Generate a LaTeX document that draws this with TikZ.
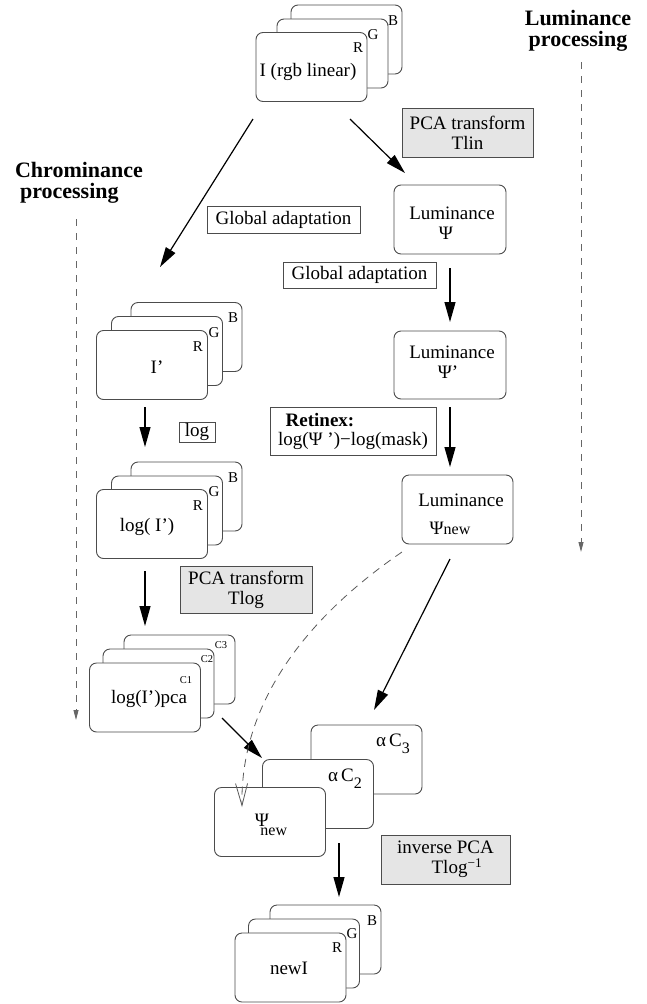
\documentclass[tikz,border=0pt]{standalone}
\usepackage{fontspec}
\setmainfont{Liberation Serif}
\usetikzlibrary{arrows.meta}
\newcommand\fNormal{\fontsize{19}{21}\selectfont}
\newcommand\fBigBold{\fontsize{22}{21}\selectfont\bfseries}
\newcommand\fRGB{\fontsize{15}{16}\selectfont}
\newcommand\fCsmall{\fontsize{10.5}{11}\selectfont}
\newcommand\fSubNew{\fontsize{16}{16}\selectfont}
\begin{document}
\begin{tikzpicture}[x=1pt,y=-1pt,
  card/.style={draw=black!70, fill=white, rounded corners=7pt, line width=0.9pt,
    minimum width=111pt, minimum height=69pt, inner sep=0pt},
  lbl/.style={draw=black!70, line width=0.9pt, inner sep=0pt, font=\fNormal, align=center},
  graylbl/.style={lbl, fill=black!10},
  txt/.style={inner sep=0pt, font=\fNormal},
  btxt/.style={inner sep=0pt, font=\fBigBold},
  chan/.style={inner sep=0pt, font=\fRGB},
  smallchan/.style={inner sep=0pt, font=\fCsmall},
  arr/.style={-{Triangle[length=20pt,width=11pt]}, line width=1.2pt},
  procarr/.style={draw=black!60, line width=0.9pt, dash pattern=on 7pt off 7pt,
    -{Triangle[length=10pt,width=5pt]}},
  curvearr/.style={draw=black!65, line width=0.8pt, dash pattern=on 8pt off 6pt,
    -{Straight Barb[length=22pt,width=12pt,line width=0.8pt]}}
]
\useasboundingbox (0,0) rectangle (647,1004);

% ---------- top stack: I (rgb linear)
\node[card] (topB) at (346.5,39.5) {};
\node[card] (topG) at (332.5,53.5) {};
\node[card] (topR) at (311.5,67) {};
\node[txt] (topT) at (308,72) {I (rgb linear)};
\node[chan] (topRl) at (358,48) {R};
\node[chan] (topGl) at (373,35) {G};
\node[chan] (topBl) at (393,21) {B};

% ---------- titles
\node[btxt, align=center] (lumtitle) at (578,31) {Luminance\\processing};
\node[btxt, align=left] (chrtitle) at (79,183) {Chrominance\\\hspace{5pt}processing};
\coordinate (lpS) at (581,62);
\coordinate (lpE) at (581,552);
\coordinate (cpS) at (76,219);
\coordinate (cpE) at (76,720);
\draw[procarr] (lpS) -- (lpE);
\draw[procarr] (cpS) -- (cpE);

% ---------- label boxes
\node[graylbl, minimum width=131pt, minimum height=49pt] (pcaLin) at (467.5,132.5)
  {PCA transform\\[-1pt]Tlin};
\node[lbl, minimum width=153pt, minimum height=27pt] (gaL) at (283.5,219.5) {Global adaptation};
\node[lbl, minimum width=153pt, minimum height=26pt] (gaR) at (359.5,275) {Global adaptation};
\node[lbl, minimum width=36pt, minimum height=20pt] (logbox) at (197,432) {log};
\node[lbl, minimum width=166pt, minimum height=48pt, align=left] (retinex) at (353,431)
  {\hspace{0.4em}\textbf{Retinex:}\\[-2pt]log(Ψ ’)−log(mask)};
\node[graylbl, minimum width=132pt, minimum height=47pt] (pcaLog) at (246,589.5)
  {PCA transform\\[-1pt]Tlog};
\node[graylbl, minimum width=129pt, minimum height=49pt] (invpca) at (445.5,859.5)
  {inverse PCA\\[-1pt]\hspace{1.2em}Tlog\textsuperscript{−1}};

% ---------- right column
\node[card, minimum width=112pt] (psi1) at (450,219.5) {};
\node[txt] (psi1a) at (452,213) {Luminance};
\node[txt] (psi1b) at (446,233) {Ψ};
\node[card, minimum width=112pt, minimum height=68pt] (psi2) at (450,365) {};
\node[txt] (psi2a) at (452,352) {Luminance};
\node[txt] (psi2b) at (448,372) {Ψ’};
\node[card, minimum width=111pt, minimum height=69pt] (psi3) at (457.5,509.5) {};
\node[txt] (psi3a) at (461,500) {Luminance};
\node[txt] (psi3b) at (450,528) {Ψ{\fSubNew new}};

% ---------- I' stack
\node[card] (ipB) at (186.5,337) {};
\node[card] (ipG) at (167,351) {};
\node[card] (ipR) at (152,365) {};
\node[txt] (ipT) at (157,367) {I’};
\node[chan] (ipRl) at (198,347) {R};
\node[chan] (ipGl) at (214,333) {G};
\node[chan] (ipBl) at (233,318) {B};

% ---------- log(I') stack
\node[card] (lgB) at (186.5,496.5) {};
\node[card] (lgG) at (167,510.5) {};
\node[card] (lgR) at (152,524) {};
\node[txt] (lgT) at (147,527) {log( I’)};
\node[chan] (lgRl) at (198,506) {R};
\node[chan] (lgGl) at (214,492) {G};
\node[chan] (lgBl) at (233,478) {B};

% ---------- log(I')pca stack
\node[card] (pcB) at (179.5,669.5) {};
\node[card] (pcG) at (158.5,683.5) {};
\node[card] (pcR) at (145,697.5) {};
\node[txt] (pcT) at (149,699) {log(I’)pca};
\node[smallchan] (pc1) at (186,680) {C1};
\node[smallchan] (pc2) at (207,659) {C2};
\node[smallchan] (pc3) at (221,645) {C3};

% ---------- bottom stack: Psi_new, alpha C2, alpha C3
\node[card] (bC3) at (366.5,759.5) {};
\node[card] (bC2) at (318,794) {};
\node[card] (bPsi) at (270,822) {};
\node[txt] (bPsiT) at (271,825) {Ψ\kern-0.45em\raisebox{-0.45em}{\fSubNew new}};
\node[txt] (bC2T) at (345,779) {α\,C\raisebox{-0.35em}{\fSubNew 2}};
\node[txt] (bC3T) at (393,744) {α\,C\raisebox{-0.35em}{\fSubNew 3}};

% ---------- newI stack
\node[card] (nB) at (325.5,939.5) {};
\node[card] (nG) at (304,953.5) {};
\node[card] (nR) at (290.5,967.5) {};
\node[txt] (nT) at (289,968) {newI};
\node[chan] (nRl) at (337,948) {R};
\node[chan] (nGl) at (352,934) {G};
\node[chan] (nBl) at (372,921) {B};

% ---------- arrows
\coordinate (a1s) at (253,119);  \coordinate (a1e) at (160,267);
\coordinate (a2s) at (350,119);  \coordinate (a2e) at (405,173);
\coordinate (a3s) at (450,268);  \coordinate (a3e) at (450,322);
\coordinate (a4s) at (450,407);  \coordinate (a4e) at (450,467);
\coordinate (a5s) at (145,407);  \coordinate (a5e) at (145,447);
\coordinate (a6s) at (145,571);  \coordinate (a6e) at (145,626);
\coordinate (a7s) at (222,718);  \coordinate (a7e) at (262,758);
\coordinate (a8s) at (450,559);  \coordinate (a8e) at (374,710);
\coordinate (a9s) at (339,843);  \coordinate (a9e) at (339,897);
\draw[arr] (a1s) -- (a1e);
\draw[arr] (a2s) -- (a2e);
\draw[arr] (a3s) -- (a3e);
\draw[arr] (a4s) -- (a4e);
\draw[arr] (a5s) -- (a5e);
\draw[arr] (a6s) -- (a6e);
\draw[arr] (a7s) -- (a7e);
\draw[arr] (a8s) -- (a8e);
\draw[arr] (a9s) -- (a9e);

% ---------- dashed curve from Psi_new luminance to Psi_new card
\coordinate (dcS) at (402,552);
\coordinate (dcE) at (242,807);
\draw[curvearr] (dcS) .. controls (310,615) and (240,700) .. (dcE);
\end{tikzpicture}
\end{document}
